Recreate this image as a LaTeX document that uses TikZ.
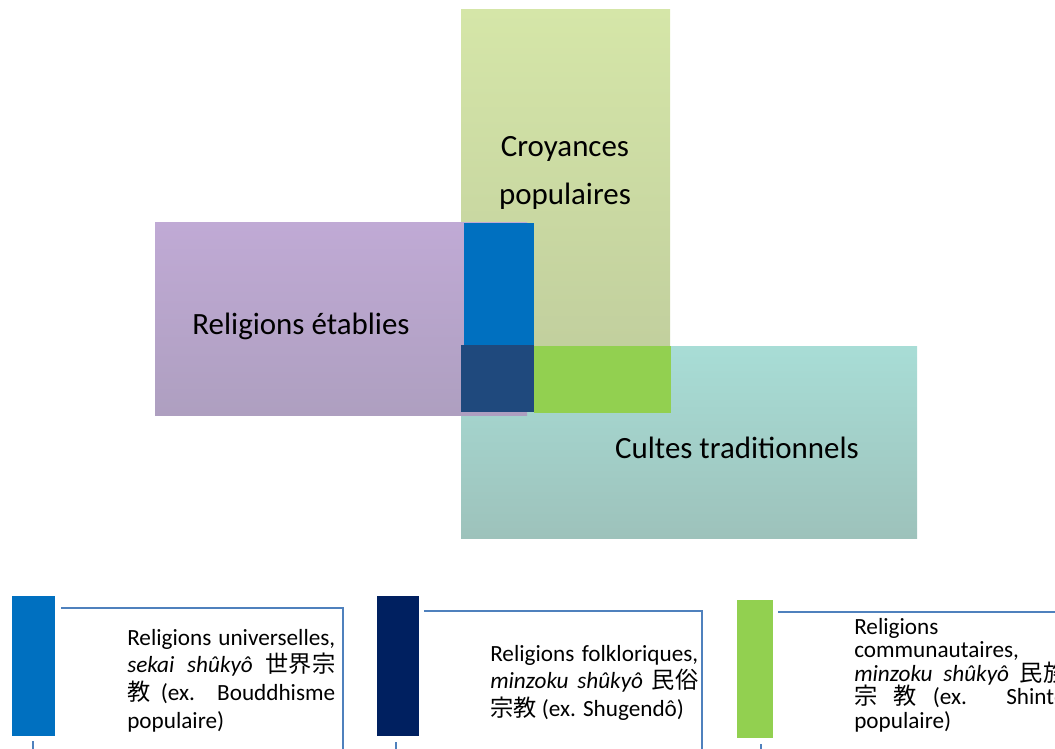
\documentclass[tikz,border=0pt]{standalone}
\usepackage{fontspec}
\setmainfont{Carlito}
\newfontfamily\cjk{Noto Sans CJK JP}
\usepackage{xcolor}
\usepackage{tikz}
\definecolor{mauveHaut}{HTML}{C0AAD5}
\definecolor{mauveBas}{HTML}{AE9FC0}
\definecolor{vertHaut}{HTML}{D5E6A8}
\definecolor{vertBas}{HTML}{BECB9C}
\definecolor{turqHaut}{HTML}{A8DDD6}
\definecolor{turqBas}{HTML}{9DC2BB}
\definecolor{bleuVif}{HTML}{0070C0}
\definecolor{bleuNuit}{HTML}{1F497D}
\definecolor{vertVif}{HTML}{92D050}
\definecolor{marine}{HTML}{002060}
\definecolor{trait}{HTML}{4F81BD}

\begin{document}
\begin{tikzpicture}[x=0.025cm,y=-0.025cm,
	grand/.style={font=\fontsize{22}{34}\selectfont,align=center,inner sep=0pt},
	legende/.style={font=\fontsize{16.5}{19.6}\selectfont,align=justify,text width=208*0.025cm,inner sep=0pt,anchor=north west},
	cadre/.style={trait,line width=1pt}]
		\useasboundingbox (0,0) rectangle (1055,749);
		\clip (0,0) rectangle (1055,749);
		\shade[top color=vertHaut,bottom color=vertBas] (461,10) rectangle (670,412);
		\shade[top color=turqHaut,bottom color=turqBas] (461,346) rectangle (917,538);
		\shade[top color=mauveHaut,bottom color=mauveBas] (155,222) rectangle (527,415);
		\fill[bleuVif] (464,223) rectangle (534,346);
		\fill[bleuNuit] (461,345) rectangle (534,412);
		\fill[vertVif] (534,346) rectangle (671,413);
		\node[grand] (croyances) at (565,173) {Croyances\\populaires};
		\node[grand] (etablies) at (301,326) {Religions établies};
		\node[grand] (cultes) at (737,448) {Cultes traditionnels};
		\fill[bleuVif] (12,596) rectangle (55,736);
		\draw[cadre] (61,608) -- (343,608) -- (343,749);
		\draw[cadre] (33,741) -- (33,749);
		\node[legende] (universelles) at (127,629) {Religions universelles,\linebreak \textit{sekai shûkyô} {\cjk 世界宗}\linebreak {\cjk 教} (ex. Bouddhisme\linebreak populaire)};
		\fill[marine] (377,596) rectangle (419,736);
		\draw[cadre] (424,611) -- (702,611) -- (702,749);
		\draw[cadre] (396,742) -- (396,749);
		\node[legende] (folkloriques) at (490,645) {Religions folkloriques,\linebreak \textit{minzoku shûkyô} {\cjk 民俗}\linebreak {\cjk 宗教} (ex. Shugendô)};
		\fill[vertVif] (737,600) rectangle (773,738);
		\draw[cadre] (778,612) -- (1060,612);
		\draw[cadre] (761,744) -- (761,749);
		\node[legende,font=\fontsize{16.5}{16.7}\selectfont,text width=212*0.025cm] (communautaires) at (854,618) {Religions\newline communautaires,\newline \textit{minzoku shûkyô} {\cjk 民族}\linebreak {\cjk 宗} {\cjk 教} (ex. Shintô\linebreak populaire)};
	\end{tikzpicture}
\end{document}
